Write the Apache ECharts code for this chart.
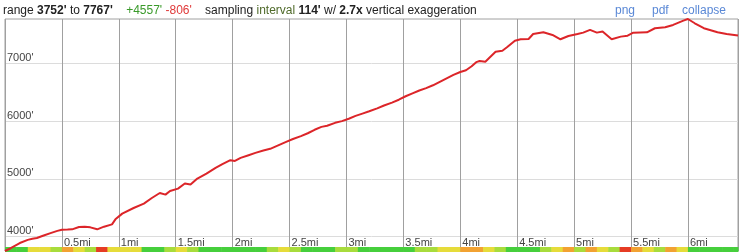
<!DOCTYPE html>
<html>
<head>
<meta charset="utf-8">
<script src="https://cdn.jsdelivr.net/npm/echarts@6/dist/echarts.min.js"></script>
<style>
html,body{margin:0;padding:0;background:#fff;}
#chart{width:740px;height:252px;}
</style>
</head>
<body>
<div id="chart"></div>
<script>
// distance along route (miles)
var distMi = [0.00,0.05,0.13,0.20,0.24,0.28,0.34,0.40,0.46,0.50,0.55,0.59,0.65,0.70,0.75,0.81,0.87,0.94,0.97,1.03,
  1.13,1.22,1.29,1.36,1.41,1.45,1.52,1.58,1.63,1.69,1.77,1.85,1.91,1.98,2.02,2.07,2.14,
  2.20,2.27,2.33,2.40,2.47,2.53,2.60,2.66,2.72,2.78,2.83,2.90,2.96,3.02,3.08,3.14,3.20,3.27,3.33,3.40,3.46,
  3.52,3.58,3.64,3.70,3.76,3.82,3.88,3.94,4.00,4.05,4.10,4.14,4.17,4.22,
  4.31,4.37,4.41,4.48,4.53,4.60,4.64,4.73,4.81,4.88,4.95,5.03,5.08,5.14,5.20,5.25,5.33,5.41,5.47,5.52,
  5.64,5.71,5.80,5.87,5.96,6.00,6.06,6.14,6.26,6.34,6.44];
// elevation (feet)
var elevFt = [3752,3800,3890,3945,3965,3976,4020,4062,4100,4121,4122,4127,4167,4173,4161,4127,4173,4213,4300,4399,
  4496,4572,4669,4756,4728,4791,4832,4919,4902,5006,5092,5190,5254,5323,5311,5363,5410,
  5450,5490,5520,5580,5640,5690,5740,5790,5850,5900,5920,5970,6000,6040,6090,6130,6170,6220,6270,6320,6370,
  6430,6480,6530,6570,6620,6680,6740,6800,6850,6880,6950,7020,7040,7028,
  7201,7218,7277,7392,7416,7421,7508,7537,7491,7416,7473,7508,7531,7578,7531,7549,7416,7462,7479,7531,
  7537,7607,7624,7664,7739,7767,7693,7607,7537,7508,7480];
// grade class per 0.1 mi segment (0 flat/green ... 4 steep/red)
var gradeClass = [0,0,2,2,1,3,2,1,4,2,2,2,0,0,1,2,1,0,0,0,
  0,0,0,1,2,1,0,0,0,1,1,0,0,0,0,0,1,1,2,2,
  3,3,2,1,0,0,0,1,2,3,1,3,2,1,4,3,2,1,3,2,
  0,0,0,0,0];
var gradeStep = 0.1;
var yTicks = [4000,5000,6000,7000];
var header = { lo: 3752, hi: 7767, gain: 4557, loss: 806, interval: 114, exag: 2.7 };

var gradePalette = ['#46cf3c','#a8dc3c','#e6dc3a','#f2a232','#e63c24'];
var lineData = distMi.map(function(d,i){ return [d, elevFt[i]]; });
var stripData = gradeClass.map(function(g,i){
  return [i*gradeStep, Math.min((i+1)*gradeStep, 6.44), g];
});

var chart = echarts.init(document.getElementById('chart'), null, {renderer:'canvas'});
var font = '"Liberation Sans", Arial, sans-serif';
chart.setOption({
  animation:false,
  textStyle:{fontFamily:font},
  graphic:[
    {type:'text', left:3, top:5, style:{
      text:'range {b|'+header.lo+"'} to {b|"+header.hi+"'}    {g|+"+header.gain+"'} {r|-"+header.loss+"'}    sampling {o|interval} {b|"+header.interval+"'} w/ {b|"+header.exag+'x} vertical exaggeration',
      font:'12px '+font, fill:'#222',
      rich:{
        b:{fontWeight:'bold', fontSize:12, fontFamily:font, fill:'#222'},
        g:{fill:'#3a9a2a', fontSize:12, fontFamily:font},
        r:{fill:'#e03a3a', fontSize:12, fontFamily:font},
        o:{fill:'#4f6a2a', fontSize:12, fontFamily:font}
      }
    }},
    {type:'text', left:615, top:5, style:{text:'png', font:'12px '+font, fill:'#5a88d6'}},
    {type:'text', left:652, top:5, style:{text:'pdf', font:'12px '+font, fill:'#5a88d6'}},
    {type:'text', left:682, top:5, style:{text:'collapse', font:'12px '+font, fill:'#5a88d6'}}
  ],
  grid:[
    {left:5, right:2, top:19, bottom:1, show:true, borderColor:'#a0a0a0', borderWidth:1, backgroundColor:'#fff'},
    {left:5, right:2, top:247, height:5}
  ],
  xAxis:[
    {type:'value', gridIndex:0, min:0, max:6.44, interval:0.5,
     axisLine:{show:false}, axisTick:{show:false},
     splitLine:{show:true, lineStyle:{color:'#a0a0a0', width:1}},
     axisLabel:{inside:true, showMinLabel:false, showMaxLabel:false, align:'left', verticalAlign:'bottom',
       margin:3, padding:[0,0,0,2], color:'#444', fontSize:11, fontFamily:font,
       formatter:function(v){ return v===0 ? '' : v+'mi'; }}},
    {type:'value', gridIndex:1, min:0, max:6.44, show:false}
  ],
  yAxis:[
    {type:'value', gridIndex:0, min:3752, max:7767,
     axisLine:{show:false},
     axisTick:{show:false, customValues:yTicks},
     splitLine:{show:true, lineStyle:{color:'#dcdcdc', width:1}},
     axisLabel:{inside:true, customValues:yTicks, align:'left', verticalAlign:'bottom', margin:2,
       padding:[0,0,0,0], color:'#444', fontSize:11, fontFamily:font,
       formatter:function(v){ return v+"'"; }}},
    {type:'value', gridIndex:1, min:0, max:1, show:false}
  ],
  series:[
    {type:'custom', xAxisIndex:1, yAxisIndex:1, data:stripData, silent:true,
     renderItem:function(params, api){
       var p0 = api.coord([api.value(0), 1]);
       var p1 = api.coord([api.value(1), 0]);
       return {type:'rect', shape:{x:p0[0], y:p0[1], width:p1[0]-p0[0]+0.5, height:p1[1]-p0[1]},
         style:{fill:gradePalette[api.value(2)]}};
     }},
    {type:'line', xAxisIndex:0, yAxisIndex:0, data:lineData, showSymbol:false, smooth:false,
     lineStyle:{color:'#dc2529', width:2}, z:5}
  ]
});
</script>
</body>
</html>
